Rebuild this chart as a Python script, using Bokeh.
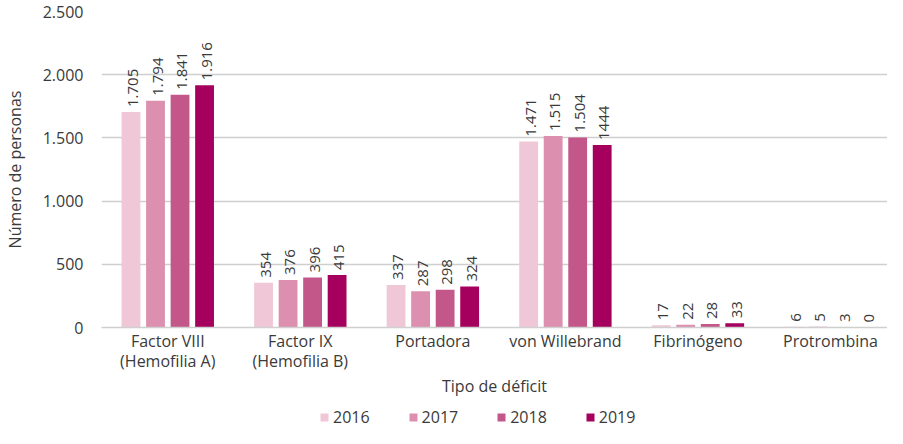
from bokeh.plotting import figure
from bokeh.layouts import column
from bokeh.models import ColumnDataSource, FixedTicker, Legend, LegendItem, Range1d
from bokeh.embed import file_html
from bokeh.resources import INLINE
from bokeh.core.properties import value
import math

categories = ["Factor VIII\n(Hemofilia A)", "Factor IX\n(Hemofilia B)", "Portadora",
              "von Willebrand", "Fibrinógeno", "Protrombina"]
years = ["2016", "2017", "2018", "2019"]
v2016 = [1705, 354, 337, 1471, 17, 6]
v2017 = [1794, 376, 287, 1515, 22, 5]
v2018 = [1841, 396, 298, 1504, 28, 3]
v2019 = [1916, 415, 324, 1444, 33, 0]
lab2016 = ["1.705", "354", "337", "1.471", "17", "6"]
lab2017 = ["1.794", "376", "287", "1.515", "22", "5"]
lab2018 = ["1.841", "396", "298", "1.504", "28", "3"]
lab2019 = ["1.916", "415", "324", "1444", "33", "0"]
y_ticks = [0, 500, 1000, 1500, 2000, 2500]
y_tick_labels = ["0", "500", "1.000", "1.500", "2.000", "2.500"]

colors = ["#F0C7D6", "#DC8FAE", "#C3578A", "#A6005E"]
series = [v2016, v2017, v2018, v2019]
labels = [lab2016, lab2017, lab2018, lab2019]

FONT = "Open Sans"
TXT = "#3a3a3a"

p = figure(width=887, height=407, output_backend="svg", toolbar_location=None,
           x_range=Range1d(0, 5.93), y_range=Range1d(0, 2500),
           min_border_left=92, min_border_right=0, min_border_top=11,
           min_border_bottom=80)
p.outline_line_color = None
p.background_fill_color = "white"
p.border_fill_color = "white"

centers = [i + 0.5 for i in range(len(categories))]
bw = 0.142
step = 0.185
for k, (vals, labs, col) in enumerate(zip(series, labels, colors)):
    xs = [c + (k - 1.5) * step for c in centers]
    src = ColumnDataSource(dict(x=xs, top=vals, lab=labs))
    p.vbar(x="x", top="top", width=bw, source=src, fill_color=col, line_color=None)
    p.text(x="x", y="top", text="lab", source=src, angle=math.pi / 2,
           text_align="left", text_baseline="middle", y_offset=-5, x_offset=2,
           text_font=value(FONT), text_font_size="15px", text_color=TXT)

p.xgrid.grid_line_color = None
p.ygrid.grid_line_color = "#cfcfcf"
p.ygrid.grid_line_width = 1.5
p.ygrid.ticker = FixedTicker(ticks=y_ticks)

p.yaxis.ticker = FixedTicker(ticks=y_ticks)
p.yaxis.major_label_overrides = {t: l for t, l in zip(y_ticks, y_tick_labels)}
p.yaxis.axis_line_color = None
p.yaxis.major_tick_line_color = None
p.yaxis.minor_tick_line_color = None
p.yaxis.major_label_standoff = 12
p.yaxis.major_label_text_font = FONT
p.yaxis.major_label_text_font_size = "16px"
p.yaxis.major_label_text_color = TXT
p.yaxis.axis_label = "Número de personas"
p.yaxis.axis_label_text_font = FONT
p.yaxis.axis_label_text_font_size = "16px"
p.yaxis.axis_label_text_font_style = "normal"
p.yaxis.axis_label_text_color = TXT
p.yaxis.axis_label_standoff = 14

p.xaxis.ticker = FixedTicker(ticks=centers)
p.xaxis.major_label_overrides = {c: n for c, n in zip(centers, categories)}
p.xaxis.axis_line_color = "#cfcfcf"
p.xaxis.axis_line_width = 1.5
p.xaxis.major_tick_line_color = None
p.xaxis.minor_tick_line_color = None
p.xaxis.major_tick_out = 0
p.xaxis.major_tick_in = 0
p.xaxis.major_label_standoff = 2
p.xaxis.major_label_text_font = FONT
p.xaxis.major_label_text_font_size = "16px"
p.xaxis.major_label_text_line_height = 0.95
p.xaxis.major_label_text_color = TXT
p.xaxis.axis_label = "Tipo de déficit"
p.xaxis.axis_label_text_font = FONT
p.xaxis.axis_label_text_font_size = "16px"
p.xaxis.axis_label_text_font_style = "normal"
p.xaxis.axis_label_text_color = TXT
p.xaxis.axis_label_standoff = 0

# legend strip below the chart
lg = figure(width=887, height=21, output_backend="svg", toolbar_location=None,
            x_range=Range1d(0, 1), y_range=Range1d(0, 1),
            min_border=0, x_axis_type=None, y_axis_type=None)
lg.outline_line_color = None
lg.xgrid.grid_line_color = None
lg.ygrid.grid_line_color = None
items = []
for k, col in enumerate(colors):
    proxy = ColumnDataSource(dict(x=[float("nan")], top=[float("nan")]))
    r = lg.vbar(x="x", top="top", width=0.1, source=proxy, fill_color=col, line_color=None)
    items.append(LegendItem(label=years[k], renderers=[r]))
legend = Legend(items=items, orientation="horizontal", location=(218, 0),
                glyph_width=10, glyph_height=10, label_standoff=4, spacing=38,
                padding=1, margin=0, border_line_color=None,
                background_fill_alpha=0,
                label_text_font=FONT, label_text_font_size="16px",
                label_text_color=TXT, label_height=16)
lg.add_layout(legend, "center")

layout = column(p, lg, spacing=0)
open("out.html", "w").write(file_html(layout, INLINE))
